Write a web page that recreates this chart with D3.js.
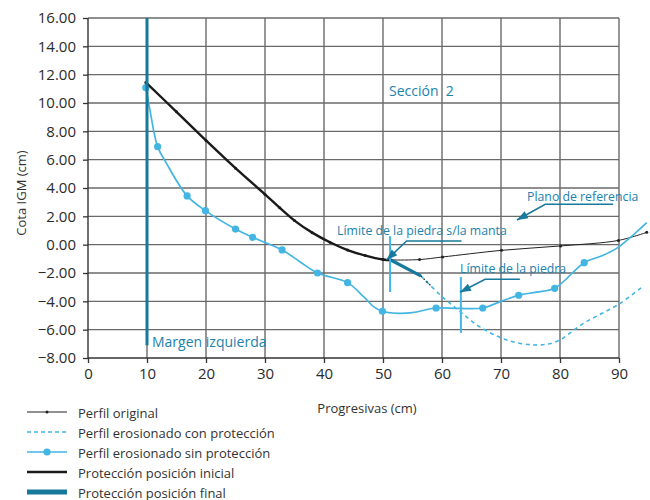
<!DOCTYPE html>
<html>
<head>
<meta charset="utf-8">
<script src="https://cdn.jsdelivr.net/npm/d3@7"></script>
<style>
  html, body { margin: 0; padding: 0; background: #fff; }
  svg { display: block; font-family: "Open Sans", "Noto Sans", sans-serif; }
</style>
</head>
<body>
<svg id="chart" width="650" height="500"></svg>
<script>
// ---- Series (progresiva en cm, cota en cm) ----
const perfilOriginalX = [9.8, 15, 20, 25, 30, 32.5, 35, 38, 41, 44, 47, 50, 51.4, 56.2, 60.1, 70.1, 80.1, 89.9, 94.7];
const perfilOriginalY = [11.45, 9.38, 7.36, 5.4, 3.55, 2.6, 1.7, 0.85, 0.17, -0.38, -0.77, -1.05, -1.08, -1.05, -0.87, -0.4, -0.09, 0.3, 0.87];

const conProteccionX = [56.4, 59.7, 63, 66.4, 71, 76, 79.4, 84, 90, 94];
const conProteccionY = [-2.2, -3.55, -4.7, -5.8, -6.73, -7.08, -6.84, -5.55, -4.19, -2.96];

const sinProteccionX = [9.8, 10.5, 11.8, 13.3, 16.8, 19.9, 25, 27.9, 32.9, 35.9, 38.9, 44, 46.7, 48.4, 49.9, 52.5, 55, 59, 63, 66.9, 70, 73, 76, 79.1, 84.1, 87, 89.6, 92.4, 94.7];
const sinProteccionY = [11.08, 9.5, 6.92, 5.74, 3.44, 2.4, 1.1, 0.52, -0.37, -1.2, -2.0, -2.68, -3.67, -4.37, -4.7, -4.85, -4.8, -4.47, -4.5, -4.47, -4.0, -3.57, -3.35, -3.08, -1.27, -0.8, -0.26, 0.68, 1.55];
const sinProteccionMarca = [1, 0, 1, 0, 1, 1, 1, 1, 1, 0, 1, 1, 0, 0, 1, 0, 0, 1, 0, 1, 0, 1, 0, 1, 1, 0, 0, 0, 0];

const inicialX = [9.8, 15, 20, 25, 30, 32.5, 35, 38, 41, 44, 47, 50, 51.4];
const inicialY = [11.45, 9.38, 7.36, 5.4, 3.55, 2.6, 1.7, 0.85, 0.17, -0.38, -0.77, -1.05, -1.1];

const finalMargenX = [10, 10];
const finalMargenY = [16, -7.1];
const finalTramoX = [51.4, 56.4];
const finalTramoY = [-1.1, -2.2];
const tramoPuntosX = [56.4, 58.3];
const tramoPuntosY = [-2.2, -2.98];

// vertical stone-limit markers
const limiteX = [51.2, 63.2];
const limiteY0 = [0.6, -2.28];
const limiteY1 = [-3.34, -6.23];

// ---- Axes ----
const xTicks = [0, 10, 20, 30, 40, 50, 60, 70, 80, 90];
const yTicks = [-8, -6, -4, -2, 0, 2, 4, 6, 8, 10, 12, 14, 16];

const legendLabels = [
  "Perfil original",
  "Perfil erosionado con protección",
  "Perfil erosionado sin protección",
  "Protección posición inicial",
  "Protección posición final"
];

// ---- Styles ----
const C_LIGHT = "#43b5e3";
const C_TEAL = "#17799c";
const C_TEXT = "#1b82ad";
const C_GRID = "#6a6a6a";

const svg = d3.select("#chart");
const x = d3.scaleLinear().domain([0, 90]).range([88, 619]);
const y = d3.scaleLinear().domain([-8, 16]).range([358, 18]);

const zip = (xs, ys) => xs.map((v, i) => [v, ys[i]]);
const line = d3.line().x(d => x(d[0])).y(d => y(d[1]));
const smooth = d3.line().x(d => x(d[0])).y(d => y(d[1])).curve(d3.curveCatmullRom.alpha(0.5));

// grid
const grid = svg.append("g");
grid.selectAll("line.h").data(yTicks.filter(t => t > -8)).join("line")
  .attr("x1", x(0)).attr("x2", x(90))
  .attr("y1", d => y(d)).attr("y2", d => y(d))
  .attr("stroke", C_GRID).attr("stroke-width", 1.4);
grid.selectAll("line.v").data(xTicks.filter(t => t > 0)).join("line")
  .attr("x1", d => x(d)).attr("x2", d => x(d))
  .attr("y1", y(16)).attr("y2", y(-8))
  .attr("stroke", C_GRID).attr("stroke-width", 1.4);

// axes
const yAxis = d3.axisLeft(y).tickValues(yTicks).tickFormat(d3.format(".2f")).tickSize(5).tickPadding(7);
const xAxis = d3.axisBottom(x).tickValues(xTicks).tickFormat(d3.format("d")).tickSize(5).tickPadding(5);
const ga = svg.append("g").attr("transform", `translate(${x(0)},0)`).call(yAxis);
const gb = svg.append("g").attr("transform", `translate(0,${y(-8)})`).call(xAxis);
[ga, gb].forEach(g => {
  g.select(".domain").attr("stroke", "#333").attr("stroke-width", 1.4);
  g.selectAll(".tick line").attr("stroke", "#333").attr("stroke-width", 1.3);
  g.selectAll("text").attr("fill", "#2b2b2b").attr("font-size", 15)
    .attr("font-family", "'Open Sans', sans-serif");
});
ga.select(".domain").attr("d", `M0,${y(16)}V${y(-8)}`);
gb.select(".domain").attr("d", `M${x(0)},0H${x(90)}`);

// axis titles
svg.append("text").attr("transform", `translate(26,193) rotate(-90)`)
  .attr("text-anchor", "middle").attr("font-size", 13).attr("fill", "#333")
  .text("Cota IGM (cm)");
svg.append("text").attr("x", 367).attr("y", 413)
  .attr("text-anchor", "middle").attr("font-size", 13).attr("fill", "#333")
  .text("Progresivas (cm)");

// series
const plot = svg.append("g");

// erosion with protection (dashed)
plot.append("path").attr("d", smooth(zip(conProteccionX, conProteccionY)))
  .attr("fill", "none").attr("stroke", C_LIGHT).attr("stroke-width", 1.6)
  .attr("stroke-dasharray", "4,3.5");

// original profile (thin, small dots)
const orig = zip(perfilOriginalX, perfilOriginalY);
plot.append("path").attr("d", smooth(orig))
  .attr("fill", "none").attr("stroke", "#222").attr("stroke-width", 1);
plot.selectAll("circle.orig").data(orig).join("circle")
  .attr("cx", d => x(d[0])).attr("cy", d => y(d[1])).attr("r", 1.5).attr("fill", "#222");

// erosion without protection
const sin = zip(sinProteccionX, sinProteccionY);
plot.append("path").attr("d", smooth(sin))
  .attr("fill", "none").attr("stroke", C_LIGHT).attr("stroke-width", 1.7);
plot.selectAll("circle.sin").data(sin.filter((d, i) => sinProteccionMarca[i])).join("circle")
  .attr("cx", d => x(d[0])).attr("cy", d => y(d[1])).attr("r", 3.6).attr("fill", C_LIGHT);

// protection, initial position
plot.append("path").attr("d", smooth(zip(inicialX, inicialY)))
  .attr("fill", "none").attr("stroke", "#1a1a1a").attr("stroke-width", 2.4);

// protection, final position
plot.append("path").attr("d", line(zip(finalMargenX, finalMargenY)))
  .attr("fill", "none").attr("stroke", C_TEAL).attr("stroke-width", 3);
plot.append("path").attr("d", line(zip(finalTramoX, finalTramoY)))
  .attr("fill", "none").attr("stroke", C_TEAL).attr("stroke-width", 3.2);
plot.append("path").attr("d", line(zip(tramoPuntosX, tramoPuntosY)))
  .attr("fill", "none").attr("stroke", "#222").attr("stroke-width", 1.3)
  .attr("stroke-dasharray", "1.5,2.5");

// stone limit markers
plot.selectAll("line.lim").data(limiteX).join("line")
  .attr("x1", d => x(d)).attr("x2", d => x(d))
  .attr("y1", (d, i) => y(limiteY0[i])).attr("y2", (d, i) => y(limiteY1[i]))
  .attr("stroke", C_LIGHT).attr("stroke-width", 2);

// annotations
const ann = svg.append("g").attr("fill", C_TEXT);
ann.append("text").attr("x", 389).attr("y", 96).attr("font-size", 14)
  .attr("xml:space", "preserve").style("white-space", "pre").text("Sección  2");
ann.append("text").attr("x", 152).attr("y", 347).attr("font-size", 14).text("Margen izquierda");
ann.append("text").attr("x", 527).attr("y", 201).attr("font-size", 12.3).text("Plano de referencia");
ann.append("text").attr("x", 337).attr("y", 235).attr("font-size", 12.3).text("Límite de la piedra s/la manta");
ann.append("text").attr("x", 460).attr("y", 273).attr("font-size", 12.3).text("Límite de la piedra");

function pointer(ux0, ux1, uy, tx, ty) {
  const g = svg.append("g");
  const px0 = x(ux0), px1 = x(ux1), py = y(uy), qx = x(tx), qy = y(ty);
  g.append("path").attr("d", `M${px1},${py}H${px0}L${qx},${qy}`)
    .attr("fill", "none").attr("stroke", C_TEAL).attr("stroke-width", 1.6);
  const ang = Math.atan2(qy - py, qx - px0);
  const L = 11, W = 4;
  const bx = qx - L * Math.cos(ang), by = qy - L * Math.sin(ang);
  const nx = -Math.sin(ang) * W, ny = Math.cos(ang) * W;
  g.append("path").attr("d", `M${qx},${qy}L${bx + nx},${by + ny}L${bx - nx},${by - ny}Z`)
    .attr("fill", C_TEAL);
}
pointer(77.5, 89, 2.85, 72.7, 1.74);
pointer(54.0, 63.3, 0.26, 50.6, -1.08);
pointer(67.3, 73.2, -2.44, 63.05, -3.36);

// legend
const lg = svg.append("g");
const rowY = i => 412 + i * 20;
lg.selectAll("text").data(legendLabels).join("text")
  .attr("x", 78).attr("y", (d, i) => rowY(i) + 5.5)
  .attr("font-size", 13).attr("fill", "#333").text(d => d);
const samples = [
  { stroke: "#222", w: 1, dash: null, dot: 1.5, dotFill: "#222" },
  { stroke: C_LIGHT, w: 1.6, dash: "4,3", dot: 0 },
  { stroke: C_LIGHT, w: 1.6, dash: null, dot: 3.6, dotFill: C_LIGHT },
  { stroke: "#1a1a1a", w: 2.4, dash: null, dot: 0 },
  { stroke: C_TEAL, w: 5, dash: null, dot: 0 }
];
samples.forEach((s, i) => {
  lg.append("line").attr("x1", 27).attr("x2", 67).attr("y1", rowY(i)).attr("y2", rowY(i))
    .attr("stroke", s.stroke).attr("stroke-width", s.w)
    .attr("stroke-dasharray", s.dash);
  if (s.dot) lg.append("circle").attr("cx", 47).attr("cy", rowY(i)).attr("r", s.dot).attr("fill", s.dotFill);
});
</script>
</body>
</html>
